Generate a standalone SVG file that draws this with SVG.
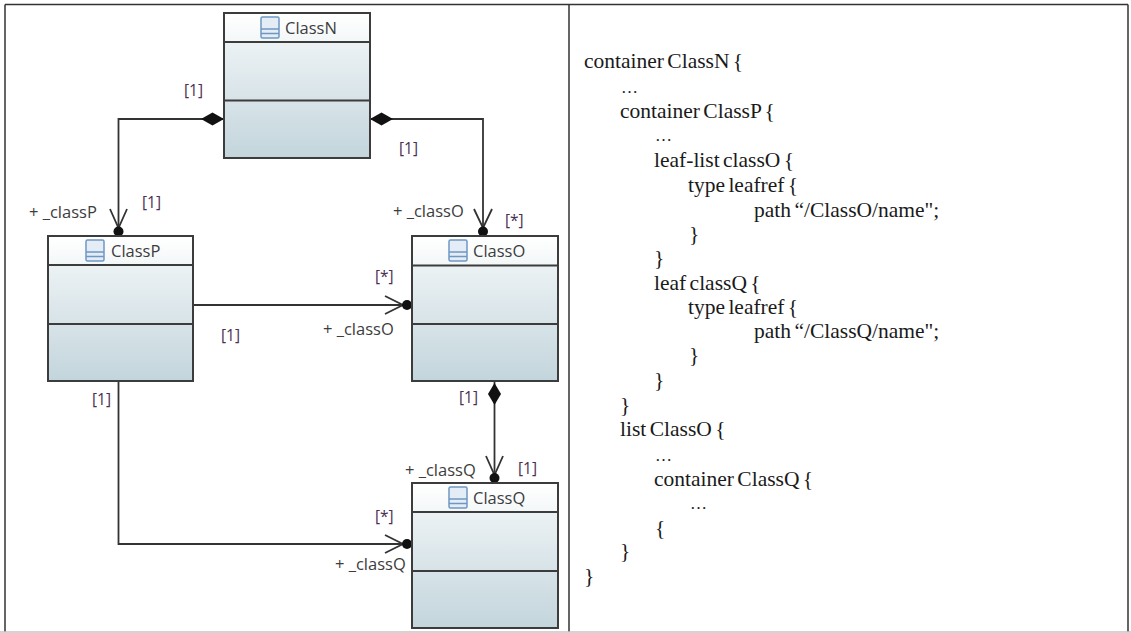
<svg xmlns="http://www.w3.org/2000/svg" width="1131" height="633" viewBox="0 0 1131 633">
<style>
.box{fill:url(#g);stroke:#3c3c3c;stroke-width:2}
.hdr{fill:url(#h)}
.sep{stroke:#3c3c3c;stroke-width:2;fill:none}
.ic{fill:#e4edf5;stroke:#6f97c4;stroke-width:1.5}
.cn{font:16.500px "Open Sans","Noto Sans",sans-serif;fill:#3d3d3d}
.role{font:16.500px "Open Sans","Noto Sans",sans-serif;fill:#3d3d3d}
.m{font:15.500px "Open Sans","Noto Sans",sans-serif;fill:#4a2f52}
.line{stroke:#333;stroke-width:1.8;fill:none}
.head{stroke:#333;stroke-width:1.8;fill:none}
.code{font:21.500px "Liberation Serif",serif;fill:#1a1a1a;word-spacing:-2px}
.dots{font:17px "Liberation Serif",serif;fill:#1a1a1a}
.fr{stroke:#333;stroke-width:1.5;fill:none}
</style>
<defs>
<linearGradient id="g" x1="0" y1="0" x2="0" y2="1"><stop offset="0" stop-color="#f6f9fa"/><stop offset="1" stop-color="#c3d5dc"/></linearGradient>
<linearGradient id="h" x1="0" y1="0" x2="0" y2="1"><stop offset="0" stop-color="#ffffff"/><stop offset="1" stop-color="#f3f7f8"/></linearGradient>
<g id="icon"><rect class="ic" x="0" y="0" width="18" height="21" rx="1.5"/><path class="ic" d="M0 12H18M0 16.500H18" fill="none"/></g>
</defs>
<rect width="1131" height="633" fill="#fff"/>
<g id="frame">
<path class="fr" d="M5 4.500H1128M5 4.500V632M569 4.500V632M1128 4.500V632"/>
<path d="M0 632H1131" stroke="#c4c4c4" stroke-width="1.500"/>
</g>
<g id="connectors">
<path class="line" d="M224 119H118.500V231"/>
<path d="M224 119l-11.500-6.500-11.500 6.500 11.500 6.500z" fill="#111"/>
<path class="head" d="M110 209l8.500 19 8.500-19"/><circle cx="118.500" cy="231.500" r="5" fill="#111"/>
<path class="line" d="M370 119H483V231"/>
<path d="M370 119l11.500-6.500 11.500 6.500-11.500 6.500z" fill="#111"/>
<path class="head" d="M474 209l9 19 9-19"/><circle cx="483" cy="231.500" r="5" fill="#111"/>
<path class="line" d="M193 305H407"/>
<path class="head" d="M385 296l18 9-18 9"/><circle cx="407" cy="305" r="5" fill="#111"/>
<path class="line" d="M118.500 381V544H407"/>
<path class="head" d="M385 535l18 9-18 9"/><circle cx="407" cy="544" r="5" fill="#111"/>
<path class="line" d="M494.500 381V478"/>
<path d="M494.500 383l6.500 11-6.500 11-6.500-11z" fill="#111"/>
<path class="head" d="M486 456l8.500 19 8.500-19"/><circle cx="494.500" cy="478" r="5" fill="#111"/>
</g>
<g id="ClassN">
<rect class="box" x="224" y="13" width="146" height="145"/><rect class="hdr" x="225" y="14" width="144" height="28"/>
<path class="sep" d="M224 42H370M224 100.500H370"/>
<use href="#icon" x="261" y="17"/>
<text class="cn" x="285" y="34">ClassN</text>
</g>
<g id="ClassP">
<rect class="box" x="48" y="236" width="145" height="145"/><rect class="hdr" x="49" y="237" width="143" height="28"/>
<path class="sep" d="M48 265H193M48 324H193"/>
<use href="#icon" x="86" y="240"/>
<text class="cn" x="111" y="257">ClassP</text>
</g>
<g id="ClassO">
<rect class="box" x="412" y="236" width="146" height="145"/><rect class="hdr" x="413" y="237" width="144" height="28"/>
<path class="sep" d="M412 265.500H558M412 324H558"/>
<use href="#icon" x="449" y="240"/>
<text class="cn" x="473" y="257">ClassO</text>
</g>
<g id="ClassQ">
<rect class="box" x="412" y="483" width="146" height="145"/><rect class="hdr" x="413" y="484" width="144" height="28"/>
<path class="sep" d="M412 512H558M412 571H558"/>
<use href="#icon" x="449" y="487"/>
<text class="cn" x="473" y="504">ClassQ</text>
</g>
<g id="labels">
<text class="m" x="184" y="96">[1]</text>
<text class="m" x="399" y="154">[1]</text>
<text class="m" x="142" y="208">[1]</text>
<text class="role" x="29" y="218">+ _classP</text>
<text class="role" x="393" y="217">+ _classO</text>
<text class="m" x="505" y="226">[*]</text>
<text class="m" x="375" y="282">[*]</text>
<text class="role" x="323" y="335">+ _classO</text>
<text class="m" x="221" y="341">[1]</text>
<text class="m" x="92" y="405">[1]</text>
<text class="m" x="459" y="403">[1]</text>
<text class="role" x="405" y="476">+ _classQ</text>
<text class="m" x="518" y="474">[1]</text>
<text class="m" x="375" y="522">[*]</text>
<text class="role" x="335" y="570">+ _classQ</text>
</g>
<g id="code">
<text class="code" x="584" y="68">container ClassN {</text>
<text class="dots" x="621" y="93">…</text>
<text class="code" x="620" y="118">container ClassP {</text>
<text class="dots" x="655" y="141">…</text>
<text class="code" x="654" y="167">leaf-list classO {</text>
<text class="code" x="688" y="192">type leafref {</text>
<text class="code" x="754" y="217">path “/ClassO/name";</text>
<text class="code" x="689" y="241">}</text>
<text class="code" x="654" y="265">}</text>
<text class="code" x="654" y="290">leaf classQ {</text>
<text class="code" x="688" y="314">type leafref {</text>
<text class="code" x="754" y="338">path “/ClassQ/name";</text>
<text class="code" x="689" y="362">}</text>
<text class="code" x="654" y="387">}</text>
<text class="code" x="620" y="412">}</text>
<text class="code" x="620" y="436">list ClassO {</text>
<text class="dots" x="655" y="461">…</text>
<text class="code" x="654" y="486">container ClassQ {</text>
<text class="dots" x="690" y="509">…</text>
<text class="code" x="655" y="535">{</text>
<text class="code" x="620" y="558">}</text>
<text class="code" x="584" y="583">}</text>
</g>
</svg>
